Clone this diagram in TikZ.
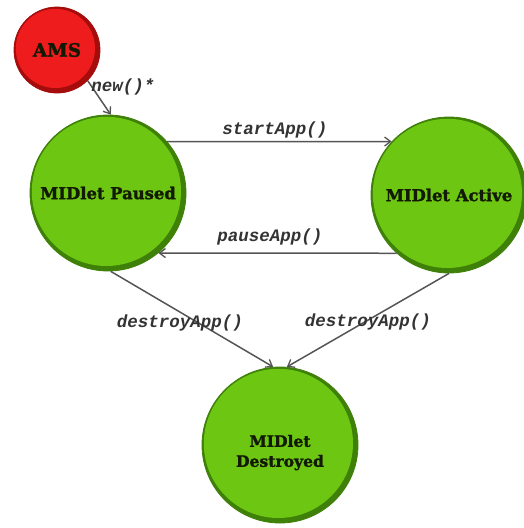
\documentclass[tikz,border=0pt]{standalone}
\usepackage{fontspec}
\setmainfont{DejaVu Serif}
\newfontfamily\statefont[FakeBold=1.6]{DejaVu Serif Bold}
\newfontfamily\labelfont{Liberation Mono}
\usetikzlibrary{arrows.meta,calc}

\definecolor{statefill}{RGB}{108,198,18}
\definecolor{staterim}{RGB}{62,128,8}
\definecolor{amsfill}{RGB}{238,28,28}
\definecolor{amsrim}{RGB}{165,12,12}
\definecolor{wire}{RGB}{85,85,85}
\definecolor{ink}{RGB}{18,26,4}

\tikzset{
  x=1pt, y=-1pt,
  % round state with a darker rim towards the lower right
  rimmed/.style n args={3}{
    circle, inner sep=0pt, minimum size=#1,
    fill=#3, draw=#3, line width=0.8pt,
    path picture={
      \fill[#2] ($(path picture bounding box.center)+(-1.6,-1.6)$)
        circle[radius=#1/2-3.4pt];
    },
    text=ink, align=center
  },
  state/.style={rimmed={156pt}{statefill}{staterim},
    font=\statefont\fontsize{16.4}{20}\selectfont},
  source/.style={rimmed={86pt}{amsfill}{amsrim},
    font=\statefont\fontsize{18.5}{20}\selectfont},
  trans/.style={draw=wire, line width=1.5pt,
    -{Straight Barb[length=6pt,width=9pt,line width=1.3pt]}},
  call/.style={font=\labelfont\bfseries\itshape\fontsize{17.5}{20}\selectfont,
    text=black!80, inner sep=0pt}
}

\begin{document}
\begin{tikzpicture}
\useasboundingbox (0,0) rectangle (523,528);

\node[source]  (ams)       at (57,50)   {AMS};
\node[state]   (paused)    at (108,193) {MIDlet Paused};
\node[state]   (active)    at (449,195) {MIDlet Active};
\node[state, font=\statefont\fontsize{15.6}{20}\selectfont]
               (destroyed) at (280,445) {\rule{0pt}{27pt}MIDlet\\Destroyed};

\draw[trans] (ams.-45)    -- (paused.88);
\draw[trans] (paused.41)  -- (active.137);
\draw[trans] (active.228) -- (paused.-50);
\draw[trans] (paused.-88) -- (destroyed.95);
\draw[trans] (active.-90) -- (destroyed.85);

\node[call] (lnew)    at (123,87)  {new()*};
\node[call] (lstart)  at (275,130) {startApp()};
\node[call] (lpause)  at (270,237) {pauseApp()};
\node[call] (ldestl)  at (180,323) {destroyApp()};
\node[call] (ldestr)  at (368,322) {destroyApp()};
\end{tikzpicture}
\end{document}
